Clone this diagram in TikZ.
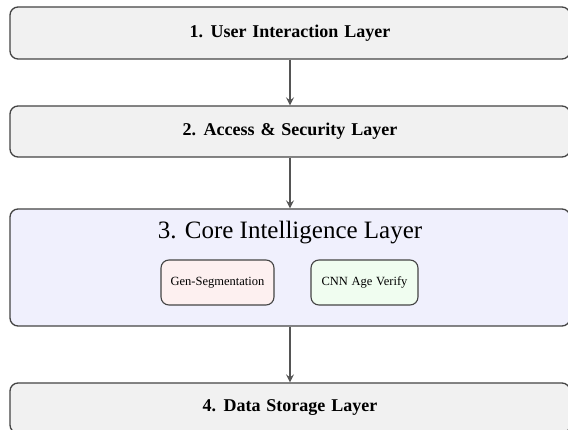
\documentclass[tikz,border=0pt]{standalone}
\usepackage{fontspec}
\setmainfont{Liberation Serif}
\usetikzlibrary{arrows.meta}
\definecolor{edgegray}{HTML}{444444}
\definecolor{arrowgray}{HTML}{555555}
\definecolor{layerfill}{HTML}{F1F1F1}
\definecolor{corefill}{HTML}{F0F0FD}
\definecolor{segfill}{HTML}{FDF0F0}
\definecolor{cnnfill}{HTML}{F0FDF0}
% slightly wider gaps between words
\newcommand\layerfont{\fontsize{18}{20}\selectfont\bfseries\spaceskip=0.33em\relax}
\newcommand\modulefont{\fontsize{12.5}{14}\selectfont\spaceskip=0.3em\relax}
\tikzset{
  layer/.style={draw=edgegray, line width=1.3pt, rounded corners=8pt,
    fill=layerfill, minimum width=560pt, inner sep=0pt, font=\layerfont},
  module/.style={draw=edgegray, line width=1.1pt, rounded corners=8pt,
    minimum height=45pt, inner sep=0pt, font=\modulefont},
  flow/.style={draw=arrowgray, line width=1.3pt,
    -{Stealth[length=8pt, width=8pt, inset=3pt]}}
}
\begin{document}
\begin{tikzpicture}[x=1pt, y=1pt]
  \useasboundingbox (0,0) rectangle (568,-430);
  \clip (0,0) rectangle (568,-430);
  \fill[white] (0,0) rectangle (568,-430);

  % stacked layers
  \node[layer, minimum height=52pt] (ui) at (290,-33) {1. User Interaction Layer};
  \node[layer, minimum height=51pt] (sec) at (290,-131.5) {2. Access \& Security Layer};
  \node[layer, minimum height=117pt, fill=corefill] (core) at (290,-267.5) {};
  \node[layer, minimum height=50pt] (data) at (290,-408) {4. Data Storage Layer};

  % contents of the core layer
  \node[font=\fontsize{25}{28}\selectfont] (coretitle) at (290,-233) {3. Core Intelligence Layer};
  \node[module, fill=segfill, minimum width=113pt] (seg) at (217.5,-282.5) {Gen-Segmentation};
  \node[module, fill=cnnfill, minimum width=107pt] (cnn) at (364.5,-282.5) {CNN Age Verify};

  % flow between layers
  \draw[flow] (ui.south) -- (sec.north);
  \draw[flow] (sec.south) -- (core.north);
  \draw[flow] (core.south) -- (data.north);
\end{tikzpicture}
\end{document}
